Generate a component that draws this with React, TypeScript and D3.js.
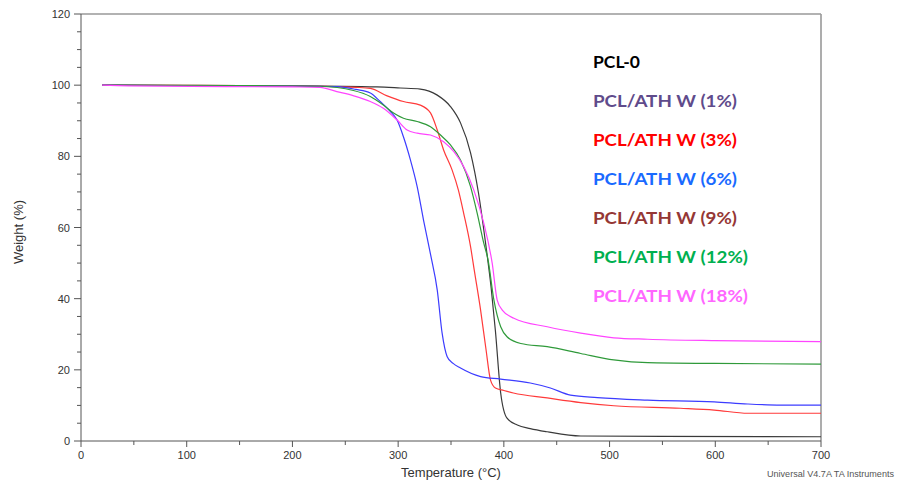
import React from "react";
import * as d3 from "d3";

// ---- data ----
const pcl0T = [20, 100, 200, 280, 302, 321, 337, 349.5, 359, 368.5, 376, 382.7, 388, 392, 397, 403, 412.7, 425, 441, 472.7, 550, 700];
const pcl0W = [100, 99.9, 99.8, 99.5, 99.2, 98.9, 97.2, 94, 89.4, 81, 69.7, 55.6, 43, 31, 13.5, 6.4, 4.5, 3.5, 2.6, 1.4, 1.3, 1.2];

const ath3T = [20, 150, 226, 260, 273.7, 289.6, 305, 321, 330.6, 337, 343, 351, 357, 362, 368.5, 372, 378, 383, 387.4, 392, 400, 409, 441, 472.7, 504, 567, 599, 631, 700];
const ath3W = [100, 99.9, 99.7, 99.4, 99.1, 97, 95.4, 94.4, 92.2, 87.4, 81.8, 76.2, 70.5, 64, 54.6, 48, 36.8, 26, 17.1, 14.9, 14.2, 13.5, 12.1, 10.8, 9.9, 9.2, 8.7, 7.8, 7.8];

const ath6T = [20, 150, 220, 242, 260, 273.7, 283, 292.7, 299, 305, 311.6, 318, 324, 330.6, 337, 341.6, 346.4, 352, 359, 378, 397, 425, 444, 463, 488.5, 536, 599, 630.6, 662, 700];
const ath6W = [100, 99.8, 99.7, 99.6, 98.8, 97.8, 95.4, 92.6, 90.2, 85.5, 79, 71.5, 62.1, 52.5, 42.4, 30.3, 23.7, 21.8, 20.5, 18.1, 17.4, 16.3, 14.9, 12.9, 12.2, 11.5, 11.0, 10.4, 10.1, 10.1];

const ath12T = [20, 150, 226, 257.7, 273.7, 286, 296, 305, 318, 330.6, 340, 349.5, 359, 368.5, 374.8, 381, 385, 390.6, 397, 403, 416, 441, 472.7, 504, 536, 599, 700];
const ath12W = [100, 99.9, 99.7, 98.5, 96.8, 94.4, 92.1, 90.7, 89.8, 88.3, 86, 83.2, 79, 71.5, 64, 55.6, 51, 39.6, 32.1, 29.3, 27.4, 26.5, 24.6, 22.8, 22.0, 21.8, 21.6];

const ath18T = [20, 45, 138, 200, 226, 242, 258, 273.7, 286, 299, 308.5, 318, 330.6, 343, 352.7, 362, 371.6, 381, 389, 393.7, 398.5, 409.5, 441, 472.7, 504, 536, 599, 700];
const ath18W = [100, 99.8, 99.6, 99.5, 99.4, 98.2, 97, 95.4, 93.5, 90.2, 87.4, 86.5, 86, 84.1, 81.3, 77.1, 70.5, 61.2, 49.9, 39.6, 36.8, 34.5, 32.1, 30.3, 29.0, 28.6, 28.2, 27.9];

const legendLabels = ["PCL-0", "PCL/ATH W (1%)", "PCL/ATH W (3%)", "PCL/ATH W (6%)", "PCL/ATH W (9%)", "PCL/ATH W (12%)", "PCL/ATH W (18%)"];
const legendColors = ["#000000", "#5f4b8b", "#ff0000", "#1a6aff", "#953735", "#00b050", "#ff66ff"];

const xTicks = [0, 100, 200, 300, 400, 500, 600, 700];
const yTicks = [0, 20, 40, 60, 80, 100, 120];

const series = [
  { t: pcl0T, w: pcl0W, color: "#3a3a3a" },
  { t: ath3T, w: ath3W, color: "#ff3a3a" },
  { t: ath6T, w: ath6W, color: "#3c3cff" },
  { t: ath12T, w: ath12W, color: "#2f9a3a" },
  { t: ath18T, w: ath18W, color: "#ff44ff" },
];

export default function App() {
  const W = 903, H = 482;
  const x = d3.scaleLinear().domain([0, 700]).range([81, 821]);
  const y = d3.scaleLinear().domain([0, 120]).range([441, 14]);
  const line = d3
    .line<[number, number]>()
    .x((d) => x(d[0]))
    .y((d) => y(d[1]))
    .curve(d3.curveMonotoneX);

  const xMinor = d3.range(0, 701, 50).filter((v) => v % 100 !== 0);
  const yMinor = d3.range(0, 121, 5).filter((v) => v % 20 !== 0);
  const legendWidths = [47, 144, 144, 144, 144, 155, 155];
  const axisFont = "'Liberation Sans', Arial, sans-serif";

  return (
    <svg width={W} height={H} style={{ position: "absolute", left: 0, top: 0, background: "#fff" }}>
      <rect x={0} y={0} width={W} height={H} fill="#fff" />
      {/* frame */}
      <line x1={x(0)} x2={x(700)} y1={y(120)} y2={y(120)} stroke="#999" strokeWidth={1.6} />
      <line x1={x(700)} x2={x(700)} y1={y(120)} y2={y(0)} stroke="#999" strokeWidth={1.6} />
      {/* curves */}
      {series.map((s, i) => (
        <path
          key={i}
          d={line(s.t.map((t, j) => [t, s.w[j]] as [number, number])) || ""}
          fill="none"
          stroke={s.color}
          strokeWidth={1.2}
        />
      ))}
      {/* axes */}
      <line x1={x(0)} x2={x(0)} y1={y(120)} y2={y(0)} stroke="#555" strokeWidth={1} />
      <line x1={x(0)} x2={x(700)} y1={y(0)} y2={y(0)} stroke="#555" strokeWidth={1} />
      {yTicks.map((v) => (
        <g key={"y" + v}>
          <line x1={x(0) - 7} x2={x(0)} y1={y(v)} y2={y(v)} stroke="#555" />
          <text x={70} y={y(v) + 4} textAnchor="end" fontFamily={axisFont} fontSize={11} fill="#333">
            {v}
          </text>
        </g>
      ))}
      {yMinor.map((v) => (
        <line key={"ym" + v} x1={x(0) - 4} x2={x(0)} y1={y(v)} y2={y(v)} stroke="#555" />
      ))}
      {xTicks.map((v) => (
        <g key={"x" + v}>
          <line x1={x(v)} x2={x(v)} y1={y(0)} y2={y(0) + 6} stroke="#555" />
          <text x={x(v)} y={459} textAnchor="middle" fontFamily={axisFont} fontSize={11} fill="#333">
            {v}
          </text>
        </g>
      ))}
      {xMinor.map((v) => (
        <line key={"xm" + v} x1={x(v)} x2={x(v)} y1={y(0)} y2={y(0) + 4} stroke="#555" />
      ))}
      {/* axis titles */}
      <text x={(x(0) + x(700)) / 2} y={477} textAnchor="middle" fontFamily={axisFont} fontSize={13} fill="#333">
        Temperature (°C)
      </text>
      <text
        transform={`translate(23,232) rotate(-90)`}
        textAnchor="middle"
        fontFamily={axisFont}
        fontSize={13}
        fill="#333"
      >
        Weight (%)
      </text>
      <text x={767} y={477} fontFamily={axisFont} fontSize={9.5} fill="#555" textLength={127} lengthAdjust="spacingAndGlyphs">
        Universal V4.7A TA Instruments
      </text>
      {/* legend */}
      {legendLabels.map((lab, i) => (
        <text
          key={lab}
          x={593}
          y={68.3 + i * 39}
          fontFamily="Lato, 'Open Sans', sans-serif"
          fontWeight="bold"
          fontSize={17}
          fill={legendColors[i]}
          textLength={legendWidths[i]}
          lengthAdjust="spacingAndGlyphs"
        >
          {lab}
        </text>
      ))}
    </svg>
  );
}
